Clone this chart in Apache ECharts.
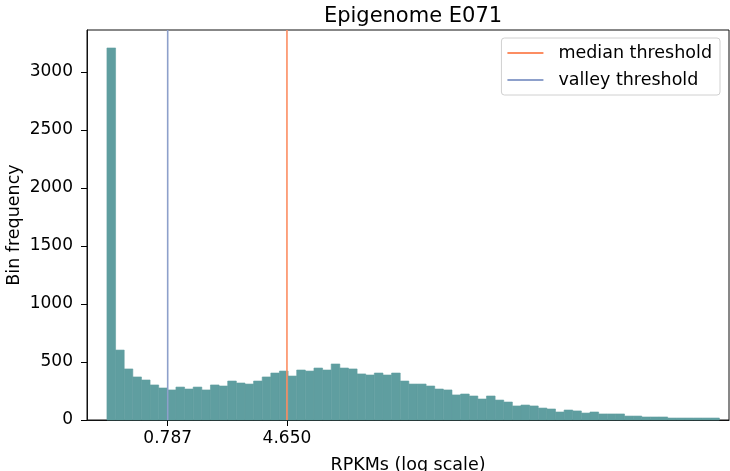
<!DOCTYPE html>
<html>
<head>
<meta charset="utf-8">
<script src="https://cdn.jsdelivr.net/npm/echarts@6/dist/echarts.min.js"></script>
<style>
  html, body { margin: 0; padding: 0; background: #fff; }
  #chart { width: 730px; height: 471px; }
</style>
</head>
<body>
<div id="chart"></div>
<script>
// histogram bins, x in log10(RPKM)
const binStart = -0.497
const binWidth = 0.0558
const binCounts = [
  3207, 603, 440, 371, 345, 302, 276, 259, 284, 267,
  284, 259, 302, 293, 336, 319, 310, 336, 371, 405,
  422, 379, 431, 422, 448, 431, 483, 448, 440, 397,
  388, 405, 388, 405, 336, 310, 310, 293, 267, 259,
  216, 224, 207, 181, 207, 172, 155, 121, 129, 121,
  103, 95, 69, 86, 78, 60, 69, 52, 52, 52,
  34, 34, 26, 26, 26, 17, 17, 17, 17, 17, 17
]
const thresholdNames = ['median threshold', 'valley threshold']
const thresholdValues = [4.650, 0.787]
const thresholdColors = ['#fc8d62', '#8da0cb']
const yTicks = [0, 500, 1000, 1500, 2000, 2500, 3000]
const yMax = 3362

const font = 'DejaVu Sans'
const chart = echarts.init(document.getElementById('chart'))

const histData = binCounts.map((c, i) => [binStart + i * binWidth, binStart + (i + 1) * binWidth, c])

const series = [
  {
    name: 'hist',
    type: 'custom',
    data: histData,
    encode: { x: [0, 1], y: 2 },
    renderItem(params, api) {
      const p0 = api.coord([api.value(0), api.value(2)])
      const p1 = api.coord([api.value(1), 0])
      return {
        type: 'rect',
        shape: { x: p0[0], y: p0[1], width: p1[0] - p0[0], height: p1[1] - p0[1] },
        style: { fill: '#5F9EA0', stroke: '#5F9EA0', lineWidth: 0.6 }
      }
    },
    z: 1
  }
]
thresholdNames.forEach((name, i) => {
  const lx = Math.log10(thresholdValues[i])
  series.push({
    name,
    type: 'line',
    data: [[lx, 0], [lx, yMax]],
    symbol: 'none',
    lineStyle: { color: thresholdColors[i], width: 1.6 },
    itemStyle: { color: thresholdColors[i] },
    z: 3
  })
})

chart.setOption({
  animation: false,
  backgroundColor: '#fff',
  title: {
    text: 'Epigenome E071',
    left: 408,
    textAlign: 'center',
    top: 1,
    textStyle: { fontFamily: font, fontSize: 21, fontWeight: 'normal', color: '#000' }
  },
  legend: {
    data: thresholdNames,
    orient: 'vertical',
    right: 10,
    top: 38,
    icon: 'rect',
    itemWidth: 36,
    itemHeight: 2,
    itemGap: 9,
    padding: [6, 8, 6, 6],
    backgroundColor: '#fff',
    borderColor: '#d0d0d0',
    borderWidth: 1,
    borderRadius: 3,
    textStyle: { fontFamily: font, fontSize: 17.5, color: '#000', padding: [0, 0, 0, 10] }
  },
  grid: {
    left: 87,
    right: 1,
    top: 30,
    bottom: 51,
    outerBoundsMode: 'none',
    show: true,
    borderColor: '#111',
    borderWidth: 1
  },
  xAxis: {
    type: 'value',
    min: -0.626,
    max: 3.527,
    name: 'RPKMs (log scale)',
    nameLocation: 'middle',
    nameGap: 36,
    nameMoveOverlap: false,
    nameTextStyle: { fontFamily: font, fontSize: 17.5, color: '#000' },
    axisLine: { show: true, onZero: false, lineStyle: { color: '#111' } },
    axisTick: { show: true, length: 6, customValues: thresholdValues.map(v => Math.log10(v)), lineStyle: { color: '#000' } },
    axisLabel: {
      customValues: thresholdValues.map(v => Math.log10(v)),
      formatter: v => Math.pow(10, v).toFixed(3),
      margin: 10,
      fontFamily: font,
      fontSize: 17,
      color: '#000'
    },
    splitLine: { show: false }
  },
  yAxis: {
    type: 'value',
    min: 0,
    max: yMax,
    name: 'Bin frequency',
    nameLocation: 'middle',
    nameGap: 64,
    nameMoveOverlap: false,
    nameTextStyle: { fontFamily: font, fontSize: 17.5, color: '#000' },
    axisLine: { show: true, onZero: false, lineStyle: { color: '#111' } },
    axisTick: { show: true, length: 6, customValues: yTicks, lineStyle: { color: '#000' } },
    axisLabel: {
      customValues: yTicks,
      formatter: v => String(v),
      margin: 14,
      fontFamily: font,
      fontSize: 17,
      color: '#000'
    },
    splitLine: { show: false }
  },
  series
})
</script>
</body>
</html>
